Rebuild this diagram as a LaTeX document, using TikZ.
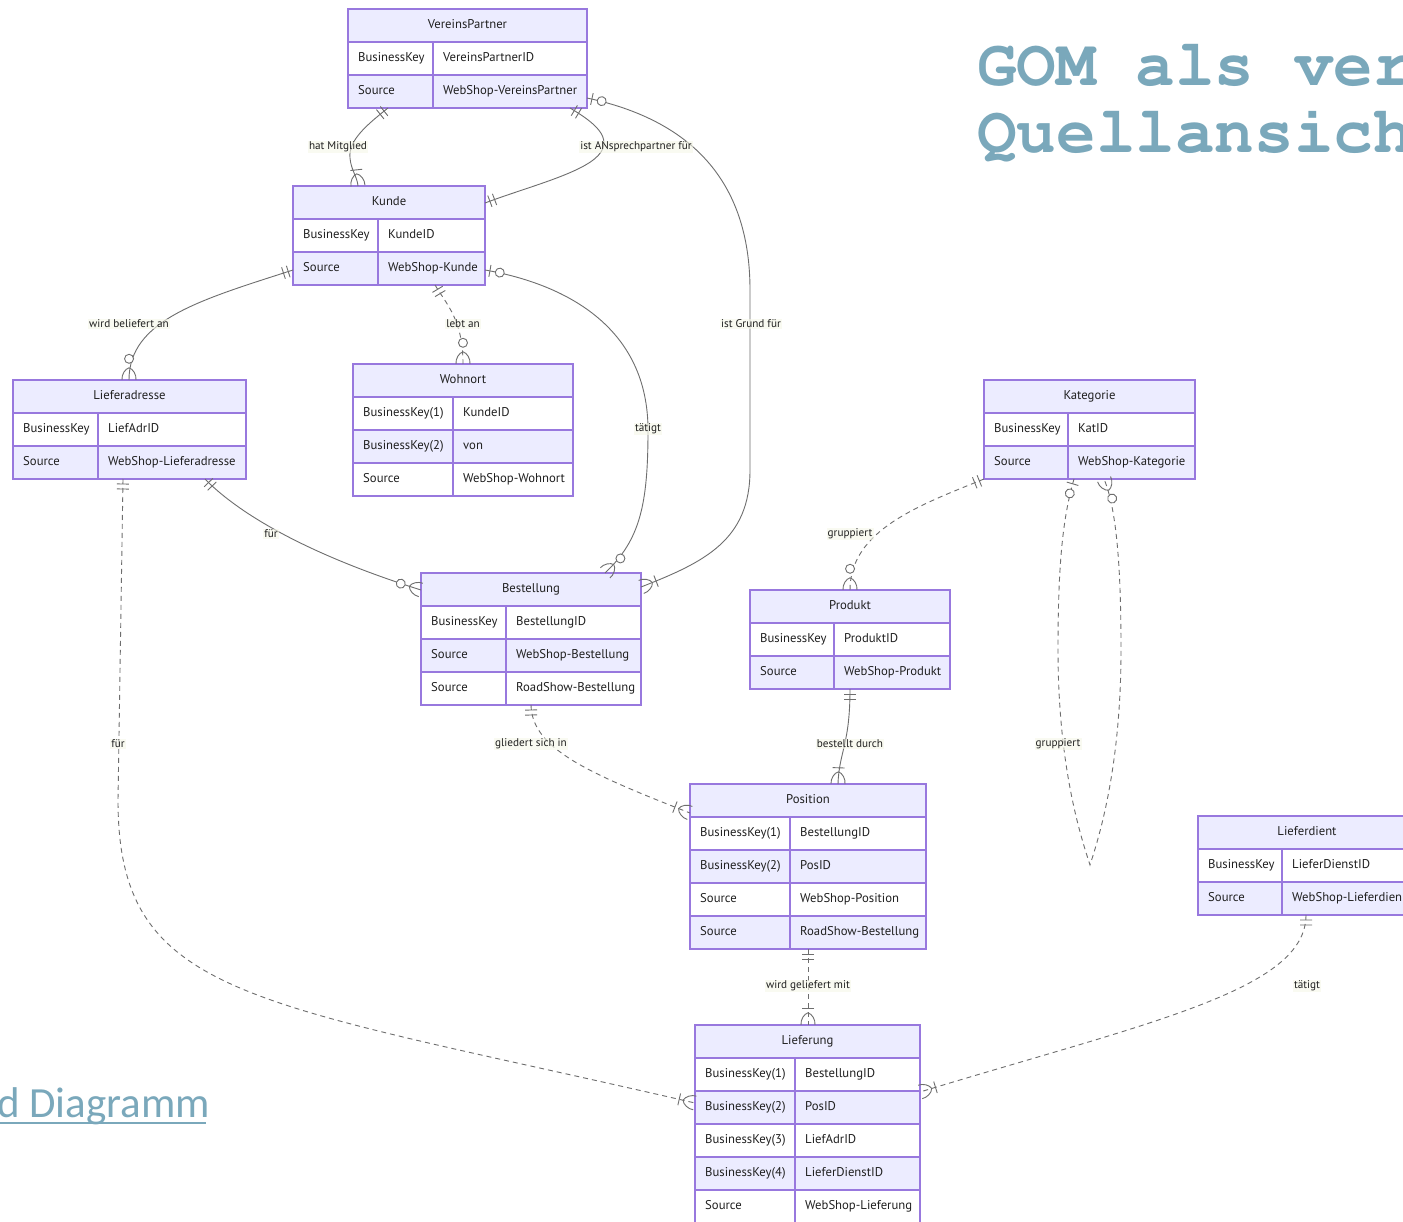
\documentclass[tikz,border=0pt]{standalone}
\usepackage{fontspec}
\usetikzlibrary{calc,decorations.markings}

\newfontfamily\ptsans{PT Sans}
\newfontfamily\calfam{Carlito}
\newcommand\entfont{\ptsans\fontsize{12.7}{14}\selectfont}
\newcommand\lblfont{\ptsans\fontsize{11.2}{13}\selectfont}
\newcommand\ttlfont{\fontencoding{T1}\fontfamily{pcr}\fontseries{b}\fontshape{n}\fontsize{66}{72}\selectfont}
\newcommand\linkfont{\calfam\fontsize{43}{50}\selectfont}

\definecolor{entline}{RGB}{152,120,222}
\definecolor{entfill}{RGB}{236,236,255}
\definecolor{enttxt}{RGB}{32,32,32}
\definecolor{relline}{RGB}{110,110,110}
\definecolor{lblbg}{RGB}{246,247,232}
\definecolor{slate}{RGB}{122,168,187}

% crow's foot pieces, drawn in the local frame of the line end:
% x runs along the line, away from the entity
\newcommand\mkbar[1]{\draw[relline,solid,line width=0.9pt] (#1,-6) -- (#1,6);}
\newcommand\mkring[1]{\draw[relline,solid,line width=0.9pt,fill=white] (#1,0) circle[radius=4.5pt];}
\newcommand\mkcrow{\draw[relline,solid,line width=0.9pt] (0,7) .. controls (5,7.5) and (11,4) .. (12,0) .. controls (11,-4) and (5,-7.5) .. (0,-7);}
\newcommand\mkOne[1]{\begin{scope}[xscale=#1]\mkbar{5}\mkbar{10}\end{scope}}
\newcommand\mkZeroOne[1]{\begin{scope}[xscale=#1]\mkbar{5}\mkring{15}\end{scope}}
\newcommand\mkZeroMany[1]{\begin{scope}[xscale=#1]\mkcrow\mkring{21}\end{scope}}
\newcommand\mkOneMany[1]{\begin{scope}[xscale=#1]\mkcrow\mkbar{16}\end{scope}}

\tikzset{
  rel/.style={draw=relline, line width=0.9pt},
  reldash/.style={rel, dash pattern=on 5pt off 4pt},
  mk/.style 2 args={postaction={decorate,decoration={markings,mark=at position #1 with {#2}}}},
  from one/.style={mk={0pt}{\mkOne{1}}},
  from zeroone/.style={mk={0pt}{\mkZeroOne{1}}},
  to one/.style={mk={-0.2pt}{\mkOne{-1}}},
  to zeromany/.style={mk={-0.2pt}{\mkZeroMany{-1}}},
  to onemany/.style={mk={-0.2pt}{\mkOneMany{-1}}},
  entframe/.style={draw=entline, line width=1.3pt, inner sep=0pt, outer sep=0pt, anchor=north west},
  entgrid/.style={draw=entline, line width=1.1pt},
  enttext/.style={font=\entfont, text=enttxt, inner sep=0pt, anchor=west, text height=9pt, text depth=2.6pt},
  enthead/.style={font=\entfont, text=enttxt, inner sep=0pt, text height=9pt, text depth=2.6pt},
  rellabel/.style={font=\lblfont, text=enttxt, fill=lblbg, fill opacity=0.6, text opacity=1, inner sep=1.2pt},
}

% #1 name, #2 left, #3 top, #4 width, #5 key column width,
% #6 number of rows, #7 title, #8 key/value rows
\newcommand\erentity[8]{%
  \fill[entfill] (#2,#3) rectangle ++(#4,33);
  \node[enthead] (#1-title) at (#2+#4/2,#3+16.5) {#7};
  \foreach \k/\v [count=\i] in {#8} {
    \pgfmathsetmacro\rowtop{#3+33*\i}
    \ifodd\i
      \fill[white] (#2,\rowtop) rectangle ++(#4,33);
    \else
      \fill[entfill] (#2,\rowtop) rectangle ++(#4,33);
    \fi
    \node[enttext] (#1-k\i) at (#2+10,\rowtop+16.5) {\k};
    \node[enttext] (#1-v\i) at (#2+#5+10,\rowtop+16.5) {\v};
    \draw[entgrid] (#2,\rowtop) -- ++(#4,0);
  }
  \draw[entgrid] (#2+#5,#3+33) -- ++(0,#6*33);
  \node[entframe, minimum width=#4pt, minimum height={(#6+1)*33pt}] (#1) at (#2,#3) {};
}

\begin{document}
\begin{tikzpicture}[x=1pt,y=-1pt]
\useasboundingbox (0,0) rectangle (1403,1222);
\fill[white] (0,0) rectangle (1403,1222);
\clip (0,0) rectangle (1403,1222);

% heading and link text
\node[anchor=base west, inner sep=0pt, font=\ttlfont, text=slate] (head1) at (977,86) {GOM als ver};
\node[anchor=base west, inner sep=0pt, font=\ttlfont, text=slate] (head2) at (977,153) {Quellansich};
\node[anchor=base west, inner sep=0pt, font=\linkfont, text=slate] (link) at (-3,1117) {d Diagramm};
\draw[slate, line width=2.2pt] (0,1123) -- (206,1123);

% entities
\erentity{VP}{348}{9}{239}{85}{2}{VereinsPartner}{BusinessKey/VereinsPartnerID, Source/WebShop-VereinsPartner}
\erentity{K}{293}{186}{192}{85}{2}{Kunde}{BusinessKey/KundeID, Source/WebShop-Kunde}
\erentity{LA}{13}{380}{233}{85}{2}{Lieferadresse}{BusinessKey/LiefAdrID, Source/WebShop-Lieferadresse}
\erentity{W}{353}{364}{220}{100}{3}{Wohnort}{{BusinessKey(1)}/KundeID, {BusinessKey(2)}/von, Source/WebShop-Wohnort}
\erentity{KA}{984}{380}{211}{84}{2}{Kategorie}{BusinessKey/KatID, Source/WebShop-Kategorie}
\erentity{B}{421}{573}{220}{85}{3}{Bestellung}{BusinessKey/BestellungID, Source/WebShop-Bestellung, Source/RoadShow-Bestellung}
\erentity{P}{750}{590}{200}{84}{2}{Produkt}{BusinessKey/ProduktID, Source/WebShop-Produkt}
\erentity{PO}{690}{784}{236}{100}{4}{Position}{{BusinessKey(1)}/BestellungID, {BusinessKey(2)}/PosID, Source/WebShop-Position, Source/RoadShow-Bestellung}
\erentity{L}{695}{1025}{225}{100}{5}{Lieferung}{{BusinessKey(1)}/BestellungID, {BusinessKey(2)}/PosID, {BusinessKey(3)}/LiefAdrID, {BusinessKey(4)}/LieferDienstID, Source/WebShop-Lieferung}
\erentity{LD}{1198}{816}{218}{84}{2}{Lieferdient}{BusinessKey/LieferDienstID, Source/WebShop-Lieferdien}

% relationships
\draw[rel, from one, to onemany] ($(VP.south west)+(40,0)$) .. controls (368,124) and (348,140) .. (350,158) .. controls (351,170) and (357,176) .. ($(K.north west)+(65,0)$);
\draw[rel, from one, to one] ($(VP.south west)+(222,0)$) .. controls (590,120) and (612,135) .. (601,152) .. controls (588,172) and (530,186) .. ($(K.north east)+(0,17)$);
\draw[rel, from zeroone, to onemany] ($(VP.north east)+(0,89)$) .. controls (690,120) and (750,180) .. (750,290) -- (750,470) .. controls (750,540) and (705,562) .. ($(B.north east)+(0,14)$);
\draw[rel, from one, to zeromany] ($(K.north west)+(0,84)$) .. controls (200,300) and (129,320) .. ($(LA.north west)+(116,0)$);
\draw[reldash, from one, to zeromany] ($(K.south west)+(142,0)$) .. controls (447,305) and (463,320) .. ($(W.north west)+(110,0)$);
\draw[rel, from zeroone, to zeromany] ($(K.north east)+(0,84)$) .. controls (570,285) and (648,330) .. (648,430) .. controls (648,505) and (640,540) .. ($(B.north west)+(184,0)$);
\draw[rel, from one, to zeromany] ($(LA.south west)+(192,0)$) .. controls (235,510) and (300,552) .. ($(B.north west)+(0,17)$);
\draw[reldash, from one, to onemany] ($(LA.south west)+(110,0)$) -- (118,800) .. controls (118,1000) and (250,1000) .. ($(L.north west)+(0,78)$);
\draw[reldash, from one, to zeromany] (KA.south west) .. controls (920,505) and (850,530) .. ($(P.north west)+(100,0)$);
\draw[reldash, from zeroone, to zeromany] ($(KA.south west)+(90,0)$) .. controls (1062,520) and (1058,570) .. (1058,650) .. controls (1058,770) and (1082,840) .. (1090,865) .. controls (1098,840) and (1121,770) .. (1121,650) .. controls (1121,570) and (1117,510) .. ($(KA.south west)+(120,0)$);
\draw[reldash, from one, to onemany] ($(B.south west)+(110,0)$) .. controls (532,748) and (585,772) .. ($(PO.north west)+(0,29)$);
\draw[rel, from one, to onemany] ($(P.south west)+(100,0)$) .. controls (850,745) and (839,752) .. ($(PO.north west)+(148,0)$);
\draw[reldash, from one, to onemany] ($(PO.south west)+(118,0)$) -- ($(L.north west)+(113,0)$);
\draw[reldash, from one, to onemany] ($(LD.south west)+(108,0)$) .. controls (1306,990) and (1150,1022) .. ($(L.north east)+(0,67)$);

% relationship labels
\node[rellabel] (r1) at (338,147) {hat Mitglied};
\node[rellabel] (r2) at (636,147) {ist ANsprechpartner für};
\node[rellabel] (r3) at (751,324) {ist Grund für};
\node[rellabel] (r4) at (129,324) {wird beliefert an};
\node[rellabel] (r5) at (463,324) {lebt an};
\node[rellabel] (r6) at (648,429) {tätigt};
\node[rellabel] (r7) at (271,534) {für};
\node[rellabel] (r8) at (118,744) {für};
\node[rellabel] (r9) at (850,534) {gruppiert};
\node[rellabel] (r10) at (1058,744) {gruppiert};
\node[rellabel] (r11) at (531,744) {gliedert sich in};
\node[rellabel] (r12) at (850,744) {bestellt durch};
\node[rellabel] (r13) at (808,986) {wird geliefert mit};
\node[rellabel] (r14) at (1307,986) {tätigt};
\end{tikzpicture}
\end{document}
